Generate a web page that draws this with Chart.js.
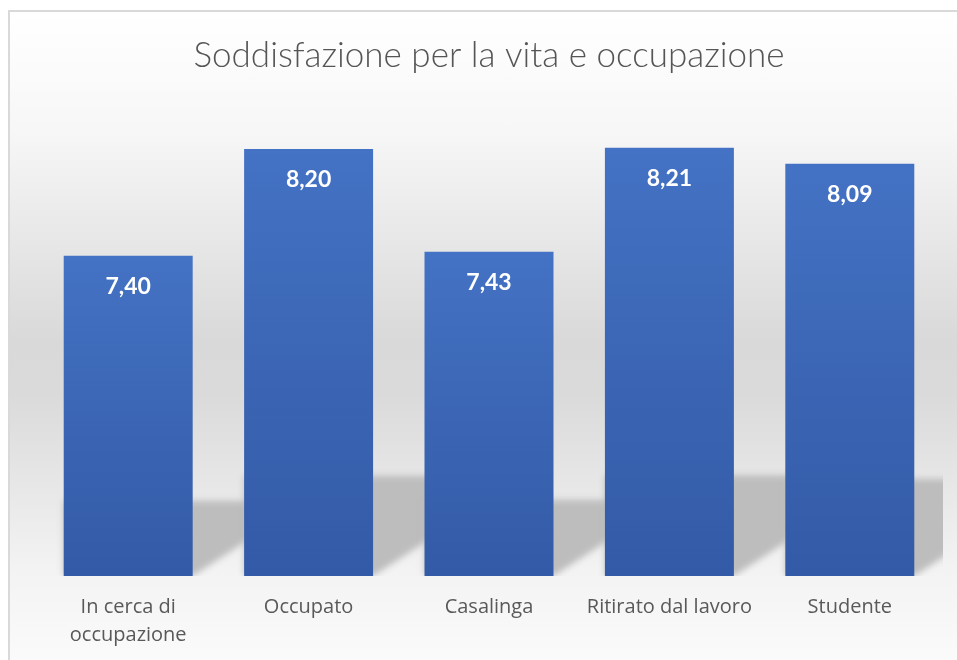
<!DOCTYPE html>
<html>
<head>
<meta charset="utf-8">
<script src="https://cdn.jsdelivr.net/npm/chart.js@4"></script>
<style>
  body { margin: 0; width: 957px; height: 660px; overflow: hidden; background: #fff; }
  #frame {
    position: absolute; left: 8px; top: 10px; width: 960px; height: 660px;
    border: 2px solid #d9d9d9; box-sizing: border-box;
    background: linear-gradient(to bottom, #ffffff 0%, #f7f7f7 18%, #d9d9d9 50%, #dadada 58%, #f3f3f3 85%, #fbfbfb 100%);
  }
  #wrap { position: absolute; left: 0; top: 0; width: 957px; height: 660px; }
</style>
</head>
<body>
<div id="frame"></div>
<div id="wrap"><canvas id="myBarChart" width="957" height="660"></canvas></div>
<script>
// dati
var categories = [["In cerca di", "occupazione"], "Occupato", "Casalinga", "Ritirato dal lavoro", "Studente"];
var satisfaction = [7.40, 8.20, 7.43, 8.21, 8.09];
var yMin = 5;
var yMax = 8.5;

// ombra prospettica dietro le barre
const barShadow = {
  id: "barShadow",
  beforeDatasetsDraw: function (chart) {
    var c = chart.ctx;
    var area = chart.chartArea;
    var xs = chart.scales.x;
    var ys = chart.scales.y;
    var base = ys.getPixelForValue(yMin);
    var halfW = (xs.getPixelForValue(1) - xs.getPixelForValue(0)) * 0.715 / 2;
    c.save();
    c.beginPath();
    c.rect(area.left, area.top, area.right - area.left + 3, area.bottom - area.top);
    c.clip();
    c.filter = "blur(3px)";
    c.fillStyle = "#bdbdbd";
    satisfaction.forEach(function (v, i) {
      var cx = xs.getPixelForValue(i);
      var top = ys.getPixelForValue(v);
      var dy = (base - top) * 0.235;
      var dx = dy / 0.65;
      c.beginPath();
      c.moveTo(cx - halfW, base);
      c.lineTo(cx + halfW, base);
      c.lineTo(cx + halfW + dx, base - dy);
      c.lineTo(cx - halfW, base - dy);
      c.closePath();
      c.fill();
    });
    c.restore();
  },
};

// etichette dei valori dentro le barre
const valueLabels = {
  id: "valueLabels",
  afterDatasetsDraw: function (chart) {
    var c = chart.ctx;
    c.save();
    c.font = "bold 23px Lato";
    c.fillStyle = "#ffffff";
    c.textAlign = "center";
    c.textBaseline = "middle";
    chart.getDatasetMeta(0).data.forEach(function (bar, i) {
      c.fillText(satisfaction[i].toFixed(2).replace(".", ","), bar.x, bar.y + 31);
    });
    c.restore();
  },
};

const ctx = document.getElementById("myBarChart").getContext("2d");
const myChart = new Chart(ctx, {
  type: "bar",
  data: {
    labels: categories,
    datasets: [
      {
        label: "Soddisfazione",
        data: satisfaction,
        backgroundColor: function (c) {
          const chart = c.chart;
          if (!chart.chartArea || c.parsed === undefined) return "#3d65b4";
          const y = chart.scales.y;
          const top = y.getPixelForValue(c.parsed.y);
          const base = y.getPixelForValue(yMin);
          const g = chart.ctx.createLinearGradient(0, top, 0, base);
          g.addColorStop(0, "#4472c4");
          g.addColorStop(1, "#335aa6");
          return g;
        },
        borderWidth: 0,
        barPercentage: 0.715,
        categoryPercentage: 1,
      },
    ],
  },
  options: {
    responsive: false,
    animation: false,
    layout: {
      padding: { top: 35, bottom: 0, left: 38, right: 17 },
    },
    plugins: {
      legend: { display: false },
      tooltip: { enabled: false },
      title: {
        display: true,
        text: "Soddisfazione per la vita e occupazione",
        color: "#555555",
        font: { family: "Lato", size: 35, weight: "300", lineHeight: 1.2 },
        padding: { top: 0, bottom: 32 },
      },
    },
    scales: {
      x: {
        grid: { display: false },
        border: { display: false },
        afterFit: function (scale) {
          scale.height = 84;
        },
        ticks: {
          color: "#595959",
          font: { family: "Open Sans", size: 20, lineHeight: 1.4 },
          padding: 9,
          maxRotation: 0,
        },
      },
      y: {
        display: false,
        min: yMin,
        max: yMax,
      },
    },
  },
  plugins: [barShadow, valueLabels],
});
</script>
</body>
</html>
